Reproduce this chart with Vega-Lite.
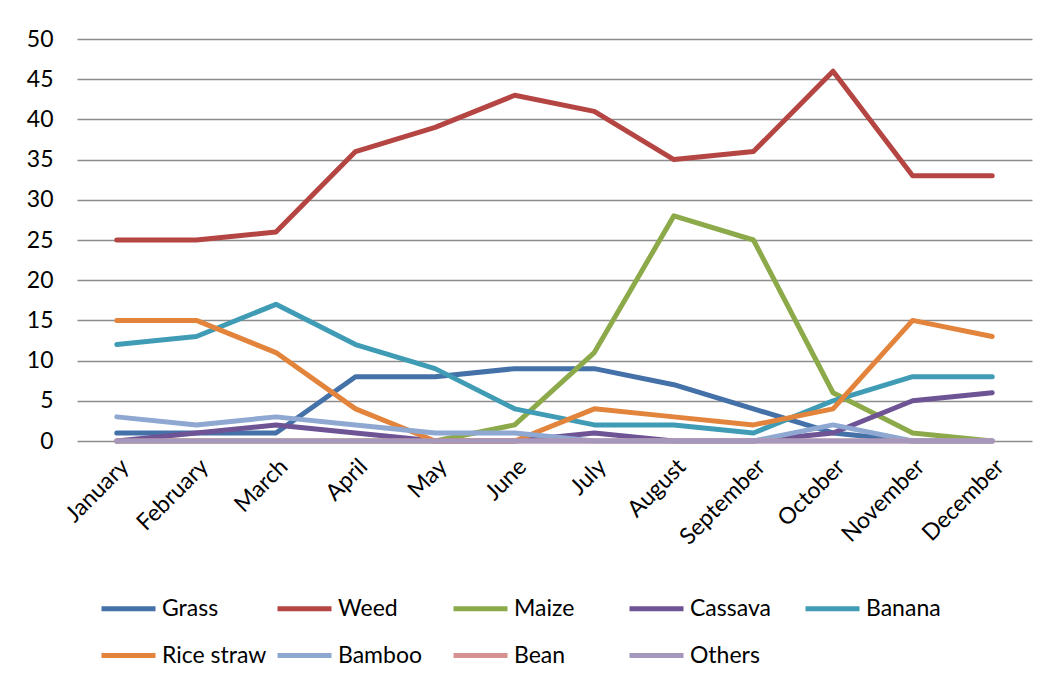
{
  "$schema": "https://vega.github.io/schema/vega-lite/v6.json",
  "autosize": "none",
  "padding": {"left": 77, "top": 39, "right": 18, "bottom": 245},
  "width": 955,
  "height": 402,
  "background": "white",
  "config": {
    "font": "Lato",
    "view": {"stroke": null}
  },
  "data": {
    "values": [
      {"month": "January", "series": "Grass", "value": 1},
      {"month": "February", "series": "Grass", "value": 1},
      {"month": "March", "series": "Grass", "value": 1},
      {"month": "April", "series": "Grass", "value": 8},
      {"month": "May", "series": "Grass", "value": 8},
      {"month": "June", "series": "Grass", "value": 9},
      {"month": "July", "series": "Grass", "value": 9},
      {"month": "August", "series": "Grass", "value": 7},
      {"month": "September", "series": "Grass", "value": 4},
      {"month": "October", "series": "Grass", "value": 1},
      {"month": "November", "series": "Grass", "value": 0},
      {"month": "December", "series": "Grass", "value": 0},
      {"month": "January", "series": "Weed", "value": 25},
      {"month": "February", "series": "Weed", "value": 25},
      {"month": "March", "series": "Weed", "value": 26},
      {"month": "April", "series": "Weed", "value": 36},
      {"month": "May", "series": "Weed", "value": 39},
      {"month": "June", "series": "Weed", "value": 43},
      {"month": "July", "series": "Weed", "value": 41},
      {"month": "August", "series": "Weed", "value": 35},
      {"month": "September", "series": "Weed", "value": 36},
      {"month": "October", "series": "Weed", "value": 46},
      {"month": "November", "series": "Weed", "value": 33},
      {"month": "December", "series": "Weed", "value": 33},
      {"month": "January", "series": "Maize", "value": 0},
      {"month": "February", "series": "Maize", "value": 0},
      {"month": "March", "series": "Maize", "value": 0},
      {"month": "April", "series": "Maize", "value": 0},
      {"month": "May", "series": "Maize", "value": 0},
      {"month": "June", "series": "Maize", "value": 2},
      {"month": "July", "series": "Maize", "value": 11},
      {"month": "August", "series": "Maize", "value": 28},
      {"month": "September", "series": "Maize", "value": 25},
      {"month": "October", "series": "Maize", "value": 6},
      {"month": "November", "series": "Maize", "value": 1},
      {"month": "December", "series": "Maize", "value": 0},
      {"month": "January", "series": "Cassava", "value": 0},
      {"month": "February", "series": "Cassava", "value": 1},
      {"month": "March", "series": "Cassava", "value": 2},
      {"month": "April", "series": "Cassava", "value": 1},
      {"month": "May", "series": "Cassava", "value": 0},
      {"month": "June", "series": "Cassava", "value": 0},
      {"month": "July", "series": "Cassava", "value": 1},
      {"month": "August", "series": "Cassava", "value": 0},
      {"month": "September", "series": "Cassava", "value": 0},
      {"month": "October", "series": "Cassava", "value": 1},
      {"month": "November", "series": "Cassava", "value": 5},
      {"month": "December", "series": "Cassava", "value": 6},
      {"month": "January", "series": "Banana", "value": 12},
      {"month": "February", "series": "Banana", "value": 13},
      {"month": "March", "series": "Banana", "value": 17},
      {"month": "April", "series": "Banana", "value": 12},
      {"month": "May", "series": "Banana", "value": 9},
      {"month": "June", "series": "Banana", "value": 4},
      {"month": "July", "series": "Banana", "value": 2},
      {"month": "August", "series": "Banana", "value": 2},
      {"month": "September", "series": "Banana", "value": 1},
      {"month": "October", "series": "Banana", "value": 5},
      {"month": "November", "series": "Banana", "value": 8},
      {"month": "December", "series": "Banana", "value": 8},
      {"month": "January", "series": "Rice straw", "value": 15},
      {"month": "February", "series": "Rice straw", "value": 15},
      {"month": "March", "series": "Rice straw", "value": 11},
      {"month": "April", "series": "Rice straw", "value": 4},
      {"month": "May", "series": "Rice straw", "value": 0},
      {"month": "June", "series": "Rice straw", "value": 0},
      {"month": "July", "series": "Rice straw", "value": 4},
      {"month": "August", "series": "Rice straw", "value": 3},
      {"month": "September", "series": "Rice straw", "value": 2},
      {"month": "October", "series": "Rice straw", "value": 4},
      {"month": "November", "series": "Rice straw", "value": 15},
      {"month": "December", "series": "Rice straw", "value": 13},
      {"month": "January", "series": "Bamboo", "value": 3},
      {"month": "February", "series": "Bamboo", "value": 2},
      {"month": "March", "series": "Bamboo", "value": 3},
      {"month": "April", "series": "Bamboo", "value": 2},
      {"month": "May", "series": "Bamboo", "value": 1},
      {"month": "June", "series": "Bamboo", "value": 1},
      {"month": "July", "series": "Bamboo", "value": 0},
      {"month": "August", "series": "Bamboo", "value": 0},
      {"month": "September", "series": "Bamboo", "value": 0},
      {"month": "October", "series": "Bamboo", "value": 2},
      {"month": "November", "series": "Bamboo", "value": 0},
      {"month": "December", "series": "Bamboo", "value": 0},
      {"month": "January", "series": "Bean", "value": 0},
      {"month": "February", "series": "Bean", "value": 0},
      {"month": "March", "series": "Bean", "value": 0},
      {"month": "April", "series": "Bean", "value": 0},
      {"month": "May", "series": "Bean", "value": 0},
      {"month": "June", "series": "Bean", "value": 0},
      {"month": "July", "series": "Bean", "value": 0},
      {"month": "August", "series": "Bean", "value": 0},
      {"month": "September", "series": "Bean", "value": 0},
      {"month": "October", "series": "Bean", "value": 0},
      {"month": "November", "series": "Bean", "value": 0},
      {"month": "December", "series": "Bean", "value": 0},
      {"month": "January", "series": "Others", "value": 0},
      {"month": "February", "series": "Others", "value": 0},
      {"month": "March", "series": "Others", "value": 0},
      {"month": "April", "series": "Others", "value": 0},
      {"month": "May", "series": "Others", "value": 0},
      {"month": "June", "series": "Others", "value": 0},
      {"month": "July", "series": "Others", "value": 0},
      {"month": "August", "series": "Others", "value": 0},
      {"month": "September", "series": "Others", "value": 0},
      {"month": "October", "series": "Others", "value": 0},
      {"month": "November", "series": "Others", "value": 0},
      {"month": "December", "series": "Others", "value": 0}
    ]
  },
  "mark": {"type": "line", "strokeWidth": 5, "strokeCap": "round", "strokeJoin": "round"},
  "encoding": {
    "x": {
      "field": "month",
      "type": "ordinal",
      "sort": null,
      "scale": {"type": "point", "padding": 0.5},
      "axis": {
        "title": null,
        "labelAngle": -45,
        "labelFontSize": 23,
        "labelColor": "#000000",
        "labelPadding": 14,
        "ticks": false,
        "domain": false,
        "grid": false
      }
    },
    "y": {
      "field": "value",
      "type": "quantitative",
      "scale": {"domain": [0, 50], "nice": false},
      "axis": {
        "title": null,
        "values": [0, 5, 10, 15, 20, 25, 30, 35, 40, 45, 50],
        "labelFontSize": 23,
        "labelColor": "#000000",
        "labelPadding": 24,
        "ticks": false,
        "domain": false,
        "grid": true,
        "gridColor": "#8c8c8c",
        "gridWidth": 1.5
      }
    },
    "color": {
      "field": "series",
      "type": "nominal",
      "sort": null,
      "scale": {
        "domain": ["Grass", "Weed", "Maize", "Cassava", "Banana", "Rice straw", "Bamboo", "Bean", "Others"],
        "range": ["#4571A9", "#B54542", "#8DAA4B", "#6E5494", "#409CB5", "#E2843B", "#8EA8D1", "#D59291", "#A698BC"]
      },
      "legend": {
        "title": null,
        "orient": "none",
        "legendX": 22,
        "legendY": 540,
        "direction": "horizontal",
        "columns": 5,
        "gridAlign": "all",
        "columnPadding": 0,
        "rowPadding": 5,
        "padding": 0,
        "symbolType": "stroke",
        "symbolSize": 2916,
        "symbolStrokeWidth": 5,
        "labelFontSize": 23,
        "labelColor": "#000000",
        "labelOffset": 4,
        "labelLimit": 300
      }
    }
  }
}
